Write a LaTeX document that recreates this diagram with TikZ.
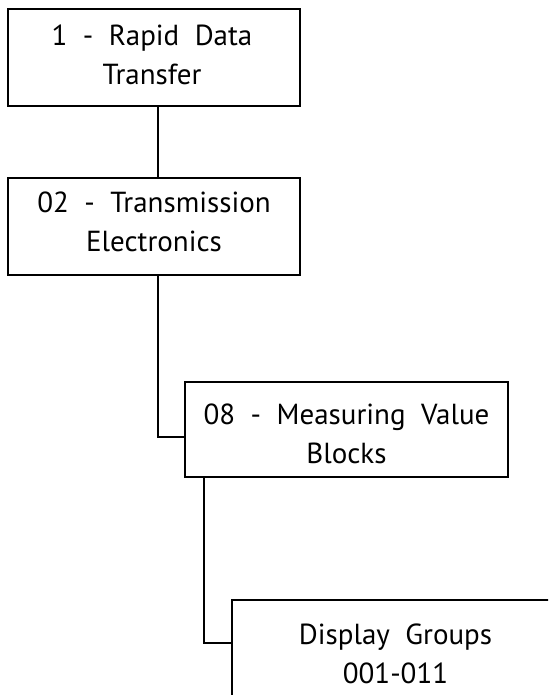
\documentclass[tikz,border=0pt]{standalone}
\usepackage{fontspec}
\setmainfont{PT Sans}
\usetikzlibrary{positioning}

\begin{document}
\begin{tikzpicture}[x=1pt, y=-1pt, line width=2pt,
    every node/.style={font=\fontsize{29}{39}\selectfont},
    box/.style={draw, rectangle, inner sep=0pt},
    lbl/.style={align=center, inner sep=0pt, anchor=north},
    link/.style={draw}]
      \clip (0,0) rectangle (548,695);
      % Rapid Data Transfer box
      \node[box, minimum width=292pt, minimum height=97pt] (rdt) at (154,57.5) {};
      \node[lbl, below=16pt of rdt.north, xshift=-2pt] (rdtlbl) {1 \ - \ Rapid \ Data\\Transfer};
      % Transmission Electronics box
      \node[box, minimum width=292pt, minimum height=97pt] (te) at (154,226.5) {};
      \node[lbl, below=14pt of te.north] (telbl) {02 \ - \ Transmission\\Electronics};
      % Measuring Value Blocks box
      \node[box, minimum width=323pt, minimum height=95pt] (mvb) at (346.5,429.5) {};
      \node[lbl, below=22pt of mvb.north] (mvblbl) {08 \ - \ Measuring \ Value\\Blocks};
      % Display Groups box, runs off the page
      \node[box, minimum width=323pt, minimum height=100pt] (dg) at (393.5,650) {};
      \node[lbl, below=23.5pt of dg.north, xshift=2pt] (dglbl) {Display \ Groups\\001-011};
      % connectors
      \draw[link] ([xshift=4pt]rdt.south) -- ([xshift=4pt]te.north);
      \draw[link] ([xshift=4pt]te.south) |- ([yshift=-7.5pt]mvb.west);
      \draw[link] ([xshift=-142.5pt]mvb.south) |- ([yshift=7pt]dg.west);
\end{tikzpicture}
\end{document}
